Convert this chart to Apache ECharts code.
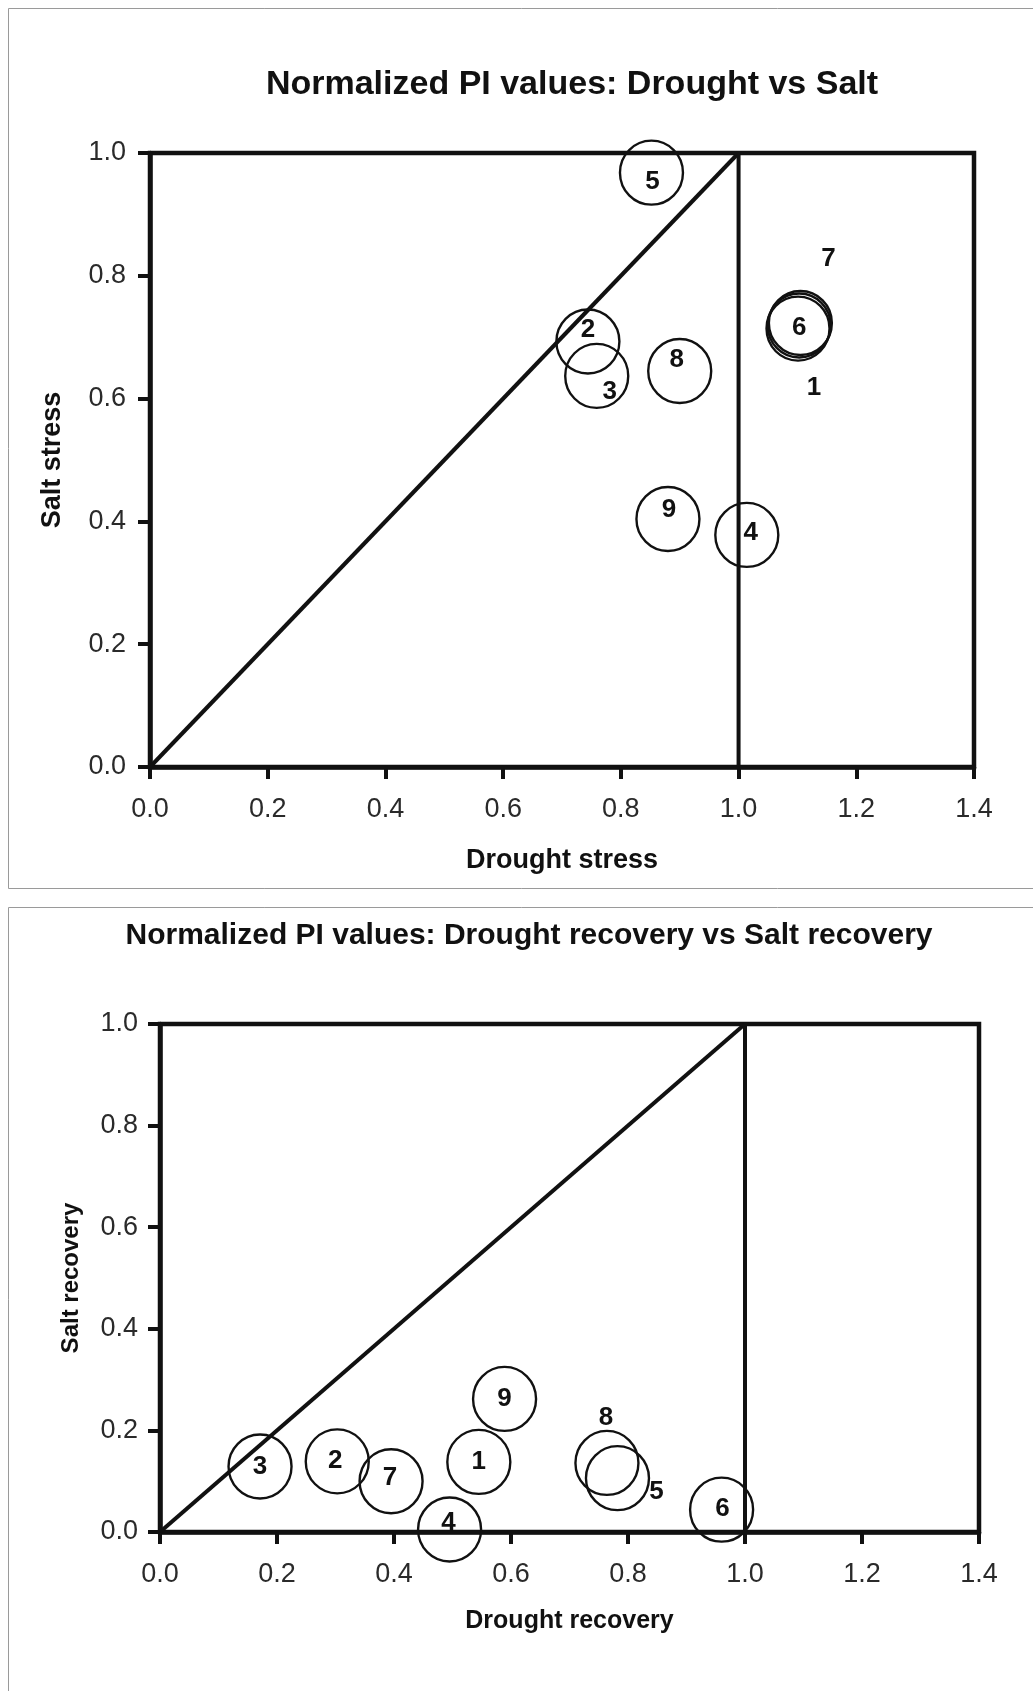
<!DOCTYPE html>
<html>
<head>
<meta charset="utf-8">
<script src="https://cdn.jsdelivr.net/npm/echarts@6/dist/echarts.min.js"></script>
<style>
html,body{margin:0;padding:0;background:#fff;}
#chart{width:1033px;height:1691px;}
</style>
</head>
<body>
<div id="chart"></div>
<script>
// ---------- DATA ----------
const pointIds = ['1','2','3','4','5','6','7','8','9'];
// Panel 1: Drought stress vs Salt stress
const droughtStress = [1.101, 0.744, 0.759, 1.014, 0.852, 1.103, 1.105, 0.900, 0.880];
const saltStress    = [0.714, 0.693, 0.637, 0.378, 0.968, 0.719, 0.723, 0.645, 0.404];
// Panel 2: Drought recovery vs Salt recovery
const droughtRecovery = [0.545, 0.303, 0.171, 0.495, 0.782, 0.960, 0.395, 0.764, 0.589];
const saltRecovery    = [0.138, 0.139, 0.129, 0.005, 0.106, 0.044, 0.100, 0.136, 0.262];
// Reference lines (1:1 diagonal and x = 1)
const diagonalLine = [[0, 0], [1, 1]];
const unityLine = [[1, 0], [1, 1]];
const xTicks = [0.0, 0.2, 0.4, 0.6, 0.8, 1.0, 1.2, 1.4];
const yTicks = [0.0, 0.2, 0.4, 0.6, 0.8, 1.0];
const titles = ['Normalized PI values: Drought vs Salt', 'Normalized PI values: Drought recovery vs Salt recovery'];
const xNames = ['Drought stress', 'Drought recovery'];
const yNames = ['Salt stress', 'Salt recovery'];

// ---------- STYLE ----------
const FONT = '"Liberation Sans", Arial, Helvetica, sans-serif';
const INK = '#111111';
// label offsets (px) relative to circle centres, keyed by point id
const labelOffsetTop = {'1':[16,59],'2':[0,-12],'3':[13,16],'4':[4,-2],'5':[1,9],'6':[0,2],'7':[28,-64],'8':[-3,-11],'9':[1,-9]};
const labelOffsetBottom = {'1':[0,0],'2':[-2,-1],'3':[0,0],'4':[-1,-7],'5':[39,14],'6':[1,-1],'7':[-1,-3],'8':[-1,-45],'9':[0,0]};

function buildPoints(xs, ys, offsets) {
  return pointIds.map((id, i) => ({
    value: [xs[i], ys[i]],
    name: id,
    label: { offset: offsets[id] }
  }));
}

function xAxisCfg(gi, nameGap, margin) {
  return {
    type: 'value', gridIndex: gi, min: xTicks[0], max: xTicks[xTicks.length-1], interval: 0.2,
    name: xNames[gi], nameLocation: 'middle', nameGap: nameGap,
    nameTextStyle: { fontFamily: FONT, fontWeight: 'bold', fontSize: gi === 0 ? 27 : 25, color: INK },
    axisLine: { show: true, onZero: false, lineStyle: { color: INK, width: 4.5 } },
    axisTick: { show: true, inside: false, length: 12, lineStyle: { color: INK, width: 4 } },
    axisLabel: { fontFamily: FONT, fontSize: 27, color: '#2a2a2a', margin: margin, formatter: v => v.toFixed(1) },
    splitLine: { show: false }
  };
}
function yAxisCfg(gi, nameGap, margin) {
  return {
    type: 'value', gridIndex: gi, min: yTicks[0], max: yTicks[yTicks.length-1], interval: 0.2,
    name: yNames[gi], nameLocation: 'middle', nameGap: nameGap, nameRotate: 90,
    nameTextStyle: { fontFamily: FONT, fontWeight: 'bold', fontSize: gi === 0 ? 27 : 24, color: INK },
    axisLine: { show: true, onZero: false, lineStyle: { color: INK, width: 4.5 } },
    axisTick: { show: true, inside: false, length: 12, lineStyle: { color: INK, width: 4 } },
    axisLabel: { fontFamily: FONT, fontSize: 27, color: '#2a2a2a', margin: margin, formatter: v => v.toFixed(1) },
    splitLine: { show: false }
  };
}
function refLine(gi, data) {
  return {
    type: 'line', xAxisIndex: gi, yAxisIndex: gi, data: data, symbol: 'none', silent: true,
    lineStyle: { color: INK, width: 4 }, z: 3, animation: false
  };
}
function scatterCfg(gi, data) {
  return {
    type: 'scatter', xAxisIndex: gi, yAxisIndex: gi, data: data, clip: false,
    symbol: 'circle', symbolSize: [63, 64],
    itemStyle: { color: 'rgba(0,0,0,0)', borderColor: INK, borderWidth: 2.4, opacity: 1 },
    label: { show: true, position: 'inside', formatter: p => p.name,
      fontFamily: FONT, fontWeight: 'bold', fontSize: 26, color: INK },
    z: 4, animation: false
  };
}

const chart = echarts.init(document.getElementById('chart'), null, { renderer: 'canvas' });
chart.setOption({
  backgroundColor: '#ffffff',
  animation: false,
  grid: [
    { left: 150, top: 153, width: 824, height: 614, show: true, borderColor: INK, borderWidth: 4.5, backgroundColor: 'transparent' },
    { left: 160, top: 1024, width: 819, height: 508, show: true, borderColor: INK, borderWidth: 4.5, backgroundColor: 'transparent' }
  ],
  xAxis: [ xAxisCfg(0, 80, 29), xAxisCfg(1, 77, 29) ],
  yAxis: [ yAxisCfg(0, 84, 24), yAxisCfg(1, 77, 22) ],
  series: [
    refLine(0, diagonalLine), refLine(0, unityLine),
    scatterCfg(0, buildPoints(droughtStress, saltStress, labelOffsetTop)),
    refLine(1, diagonalLine), refLine(1, unityLine),
    scatterCfg(1, buildPoints(droughtRecovery, saltRecovery, labelOffsetBottom))
  ],
  graphic: [
    { type: 'rect', shape: { x: 8.5, y: 8.5, width: 1040, height: 880 }, style: { fill: 'none', stroke: '#9a9a9a', lineWidth: 1 }, silent: true },
    { type: 'rect', shape: { x: 8.5, y: 907.5, width: 1040, height: 900 }, style: { fill: 'none', stroke: '#9a9a9a', lineWidth: 1 }, silent: true },
    { type: 'text', x: 572, y: 85, style: { text: titles[0], fontFamily: FONT, fontWeight: 'bold', fontSize: 34, fill: INK, textAlign: 'center', textVerticalAlign: 'middle' } },
    { type: 'text', x: 529, y: 936, style: { text: titles[1], fontFamily: FONT, fontWeight: 'bold', fontSize: 30, fill: INK, textAlign: 'center', textVerticalAlign: 'middle' } }
  ]
});
</script>
</body>
</html>
